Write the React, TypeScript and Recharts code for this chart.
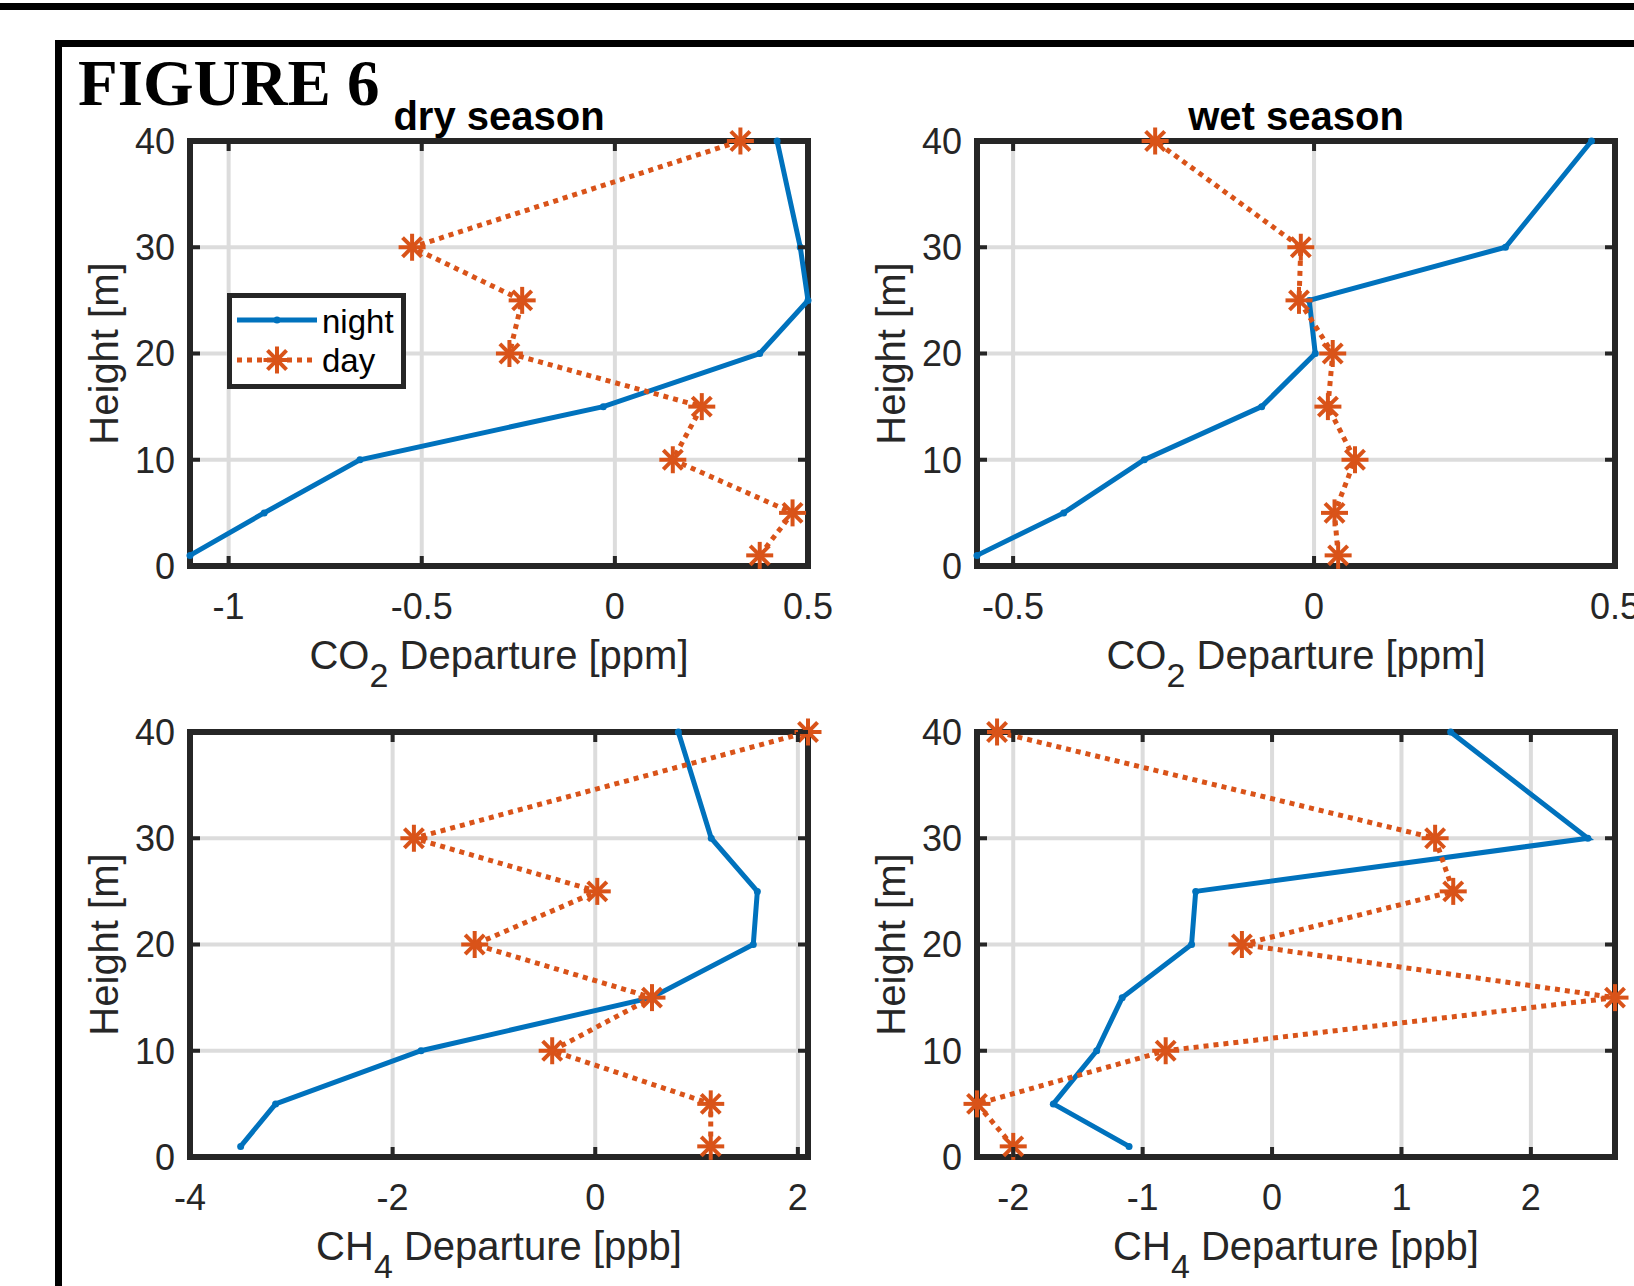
import React from "react"
import { ScatterChart, Scatter, XAxis, YAxis, CartesianGrid, ReferenceArea } from "recharts"

// heights of the inlets [m], bottom to top
const HEIGHTS = [1, 5, 10, 15, 20, 25, 30, 40]
const HEIGHT_TICKS = [0, 10, 20, 30, 40]

// CO2 departure [ppm]
const CO2_DRY_NIGHT = [-1.1, -0.908, -0.66, -0.03, 0.375, 0.5, 0.48, 0.42]
const CO2_DRY_DAY = [0.375, 0.46, 0.15, 0.225, -0.273, -0.24, -0.525, 0.325]
const CO2_WET_NIGHT = [-0.56, -0.416, -0.282, -0.087, 0.002, -0.008, 0.318, 0.461]
const CO2_WET_DAY = [0.04, 0.034, 0.068, 0.023, 0.031, -0.025, -0.022, -0.264]

// CH4 departure [ppb]
const CH4_DRY_NIGHT = [-3.5, -3.155, -1.72, 0.553, 1.56, 1.6, 1.145, 0.82]
const CH4_DRY_DAY = [1.14, 1.14, -0.425, 0.56, -1.19, 0.02, -1.79, 2.1]
const CH4_WET_NIGHT = [-1.105, -1.69, -1.355, -1.158, -0.622, -0.59, 2.44, 1.38]
const CH4_WET_DAY = [-2.0, -2.28, -0.822, 2.65, -0.233, 1.4, 1.26, -2.125]

const CO2_DRY_TICKS = [-1, -0.5, 0, 0.5]
const CO2_WET_TICKS = [-0.5, 0, 0.5]
const CH4_DRY_TICKS = [-4, -2, 0, 2]
const CH4_WET_TICKS = [-2, -1, 0, 1, 2]

const BLUE = "#0072BD"
const ORANGE = "#D95319"
const AXIS = "#262626"
const GRID = "#dcdcdc"

// chart frame around each plot area
const YW = 110
const MT = 60
const MR = 40
const XH = 130

const toPoints = (xs: number[]) => xs.map((v, i) => ({ x: v, h: HEIGHTS[i] }))

const NightDot = (p: any) => <circle cx={p.cx} cy={p.cy} r={3.5} fill={BLUE} />

const Star = (p: any) => {
  const { cx, cy } = p
  const r = 13.5
  const d = r * 0.7071
  return (
    <g stroke={ORANGE} strokeWidth={4}>
      <line x1={cx - r} y1={cy} x2={cx + r} y2={cy} />
      <line x1={cx} y1={cy - r} x2={cx} y2={cy + r} />
      <line x1={cx - d} y1={cy - d} x2={cx + d} y2={cy + d} />
      <line x1={cx - d} y1={cy + d} x2={cx + d} y2={cy - d} />
    </g>
  )
}

interface PanelProps {
  left: number
  top: number
  width: number
  height: number
  domain: [number, number]
  ticks: number[]
  gas: string
  sub: string
  unit: string
  night: number[]
  day: number[]
}

function Panel({ left, top, width, height, domain, ticks, gas, sub, unit, night, day }: PanelProps) {
  const plotL = YW
  const plotR = YW + width
  const plotT = MT
  const plotB = MT + height

  const xTick = (p: any) => (
    <g>
      <line x1={p.x} x2={p.x} y1={plotB} y2={plotB - 10} stroke={AXIS} strokeWidth={4} />
      <line x1={p.x} x2={p.x} y1={plotT} y2={plotT + 10} stroke={AXIS} strokeWidth={4} />
      <text x={p.x} y={p.y} dy="0.71em" textAnchor="middle" fontSize={36} fill={AXIS}>
        {String(p.payload.value)}
      </text>
    </g>
  )

  const yTick = (p: any) => (
    <g>
      <line x1={plotL} x2={plotL + 10} y1={p.y} y2={p.y} stroke={AXIS} strokeWidth={4} />
      <line x1={plotR} x2={plotR - 10} y1={p.y} y2={p.y} stroke={AXIS} strokeWidth={4} />
      <text x={p.x} y={p.y} dy="0.355em" textAnchor="end" fontSize={36} fill={AXIS}>
        {String(p.payload.value)}
      </text>
    </g>
  )

  const xLabel = () => (
    <text x={YW + width / 2} y={plotB + 103} textAnchor="middle" fontSize={40} fill={AXIS}>
      {gas}
      <tspan fontSize={34} dy={18}>{sub}</tspan>
      <tspan dy={-18}>{` Departure [${unit}]`}</tspan>
    </text>
  )

  const yLabel = () => {
    const x = plotL - 72
    const y = MT + height / 2
    return (
      <text x={x} y={y} textAnchor="middle" fontSize={40} fill={AXIS} transform={`rotate(-90 ${x} ${y})`}>
        Height [m]
      </text>
    )
  }

  return (
    <div style={{ position: "absolute", left: left - YW, top: top - MT }}>
      <ScatterChart
        width={YW + width + MR}
        height={MT + height + XH}
        margin={{ top: MT, right: MR, bottom: 0, left: 0 }}
      >
        <CartesianGrid stroke={GRID} strokeWidth={4} />
        <XAxis
          type="number"
          dataKey="x"
          domain={domain}
          ticks={ticks}
          interval={0}
          height={XH}
          axisLine={false}
          tickLine={false}
          tickSize={0}
          tickMargin={27}
          tick={xTick}
          label={xLabel}
        />
        <YAxis
          type="number"
          dataKey="h"
          domain={[0, 40]}
          ticks={HEIGHT_TICKS}
          interval={0}
          width={YW}
          axisLine={false}
          tickLine={false}
          tickSize={0}
          tickMargin={15}
          tick={yTick}
          label={yLabel}
        />
        <ReferenceArea
          x1={domain[0]}
          x2={domain[1]}
          y1={0}
          y2={40}
          fill="none"
          fillOpacity={0}
          stroke={AXIS}
          strokeWidth={6}
          ifOverflow="visible"
        />
        <Scatter
          name="night"
          data={toPoints(night)}
          fill={BLUE}
          line={{ stroke: BLUE, strokeWidth: 5 }}
          shape={NightDot}
          isAnimationActive={false}
        />
        <Scatter
          name="day"
          data={toPoints(day)}
          fill={ORANGE}
          line={{ stroke: ORANGE, strokeWidth: 5, strokeDasharray: "5 5" }}
          shape={Star}
          isAnimationActive={false}
        />
      </ScatterChart>
    </div>
  )
}

export default function App() {
  return (
    <div
      style={{
        position: "absolute",
        left: 0,
        top: 0,
        width: 1634,
        height: 1286,
        overflow: "hidden",
        background: "#fff",
        fontFamily: "'Liberation Sans', Arial, Helvetica, sans-serif",
      }}
    >
      {/* page rule and figure frame */}
      <svg width={1634} height={1286} style={{ position: "absolute", left: 0, top: 0 }}>
        <rect x={0} y={3} width={1634} height={7} fill="#000" />
        <rect x={58.5} y={43.5} width={1700} height={1400} fill="none" stroke="#000" strokeWidth={7} />
      </svg>

      <Panel left={190} top={141} width={618} height={425} domain={[-1.1, 0.5]} ticks={CO2_DRY_TICKS}
        gas="CO" sub="2" unit="ppm" night={CO2_DRY_NIGHT} day={CO2_DRY_DAY} />
      <Panel left={977} top={141} width={638} height={425} domain={[-0.56, 0.5]} ticks={CO2_WET_TICKS}
        gas="CO" sub="2" unit="ppm" night={CO2_WET_NIGHT} day={CO2_WET_DAY} />
      <Panel left={190} top={732} width={618} height={425} domain={[-4, 2.1]} ticks={CH4_DRY_TICKS}
        gas="CH" sub="4" unit="ppb" night={CH4_DRY_NIGHT} day={CH4_DRY_DAY} />
      <Panel left={977} top={732} width={638} height={425} domain={[-2.28, 2.65]} ticks={CH4_WET_TICKS}
        gas="CH" sub="4" unit="ppb" night={CH4_WET_NIGHT} day={CH4_WET_DAY} />

      {/* titles and legend */}
      <svg width={1634} height={1286} style={{ position: "absolute", left: 0, top: 0, pointerEvents: "none" }}>
        <text x={78} y={105} fontFamily="'Liberation Serif', 'Times New Roman', serif" fontWeight="bold" fontSize={65} fill="#000">
          FIGURE 6
        </text>
        <text x={499} y={130} textAnchor="middle" fontWeight="bold" fontSize={40} fill="#000">dry season</text>
        <text x={1296} y={130} textAnchor="middle" fontWeight="bold" fontSize={40} fill="#000">wet season</text>

        <g>
          <rect x={229.5} y={295.5} width={174} height={91} fill="#fff" stroke={AXIS} strokeWidth={5} />
          <line x1={237} x2={317} y1={320} y2={320} stroke={BLUE} strokeWidth={5} />
          <circle cx={277} cy={320} r={3.5} fill={BLUE} />
          <text x={322} y={333} fontSize={33} fill="#000">night</text>
          <line x1={237} x2={317} y1={360} y2={360} stroke={ORANGE} strokeWidth={5} strokeDasharray="5 5" />
          <Star cx={277} cy={360} />
          <text x={322} y={372} fontSize={33} fill="#000">day</text>
        </g>
      </svg>
    </div>
  )
}
